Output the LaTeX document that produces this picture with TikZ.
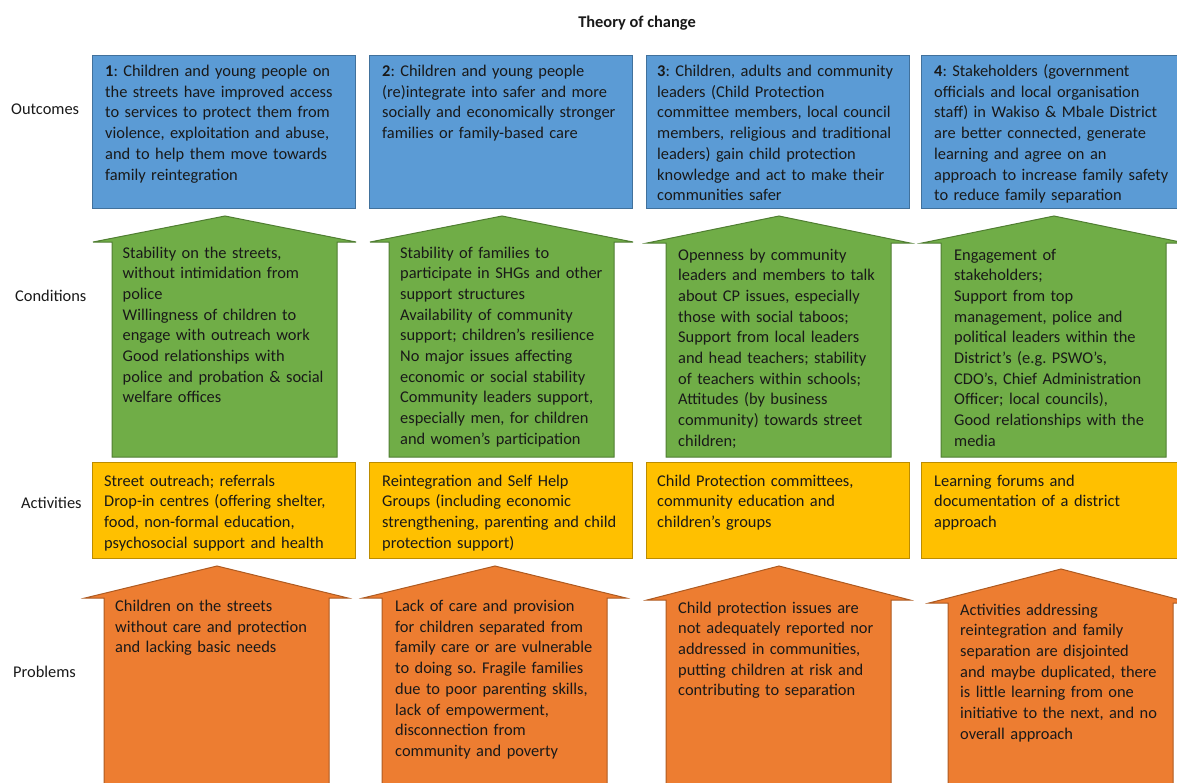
\documentclass[tikz,border=0pt]{standalone}
\usepackage{fontspec}
\setmainfont{Carlito}
\usepackage{tikz}
\frenchspacing

\definecolor{outblue}{HTML}{5B9BD5}
\definecolor{outblueline}{HTML}{41719C}
\definecolor{condgreen}{HTML}{70AD47}
\definecolor{condgreenline}{HTML}{507E32}
\definecolor{actgold}{HTML}{FFC000}
\definecolor{actgoldline}{HTML}{BC8C00}
\definecolor{probred}{HTML}{ED7D31}
\definecolor{probredline}{HTML}{AE5A21}

\begin{document}
\begin{tikzpicture}[x=1pt, y=-1pt,
    every node/.style={font=\fontsize{16.4}{20.7}\selectfont, inner sep=0pt, text=black!90},
    boxtext/.style={anchor=base west, text width=260pt, align=left},
    rowlabel/.style={anchor=west}]
    \clip (0,0) rectangle (1177,782);
    % Below are the coloured boxes and block arrows.
        \foreach \xl in {92,369,646,921}
            \filldraw[fill=outblue, draw=outblueline, line width=1pt] (\xl,55) rectangle (\xl+263,208);
        \foreach \xl/\ay/\wy in {93/216/242, 370/216/242, 647/216/243, 922/216/243}
            \filldraw[fill=condgreen, draw=condgreenline, line width=1pt]
                (\xl,\wy) -- (\xl+132,\ay) -- (\xl+263,\wy) -- (\xl+244,\wy) -- (\xl+244,457)
                -- (\xl+19,457) -- (\xl+19,\wy) -- cycle;
        \foreach \xl in {92,369,646,921}
            \filldraw[fill=actgold, draw=actgoldline, line width=1pt] (\xl,462) rectangle (\xl+263,558);
        \foreach \xl/\ay/\wy in {85/566/598, 363/566/598, 647/566/600, 929/569/603}
            \filldraw[fill=probred, draw=probredline, line width=1pt]
                (\xl,\wy) -- (\xl+132,\ay) -- (\xl+263,\wy) -- (\xl+244,\wy) -- (\xl+244,790)
                -- (\xl+19,790) -- (\xl+19,\wy) -- cycle;
    % Below nodes are the title and row labels.
        \node[font=\fontsize{16.4}{20.7}\selectfont\bfseries] (title) at (637,23) {Theory of change};
        \node[rowlabel] (outcomes) at (11,109) {Outcomes};
        \node[rowlabel] (conditions) at (15,296) {Conditions};
        \node[rowlabel] (activities) at (21,503) {Activities};
        \node[rowlabel] (problems) at (13,672) {Problems};
    % Outcomes.
        \node[boxtext] (out1) at (105,76.5) {\textbf{1}: Children and young people on\\the streets have improved access\\to services to protect them from\\violence, exploitation and abuse,\\and to help them move towards\\family reintegration};
        \node[boxtext] (out2) at (382,76.5) {\textbf{2}: Children and young people\\(re)integrate into safer and more\\socially and economically stronger\\families or family-based care};
        \node[boxtext] (out3) at (657,76.5) {\textbf{3}: Children, adults and community\\leaders (Child Protection\\committee members, local council\\members, religious and traditional\\leaders) gain child protection\\knowledge and act to make their\\communities safer};
        \node[boxtext] (out4) at (934,76.5) {\textbf{4}: Stakeholders (government\\officials and local organisation\\staff) in Wakiso \& Mbale District\\are better connected, generate\\learning and agree on an\\approach to increase family safety\\to reduce family separation};
    % Conditions.
        \node[boxtext] (cond1) at (122.5,258) {Stability on the streets,\\without intimidation from\\police\\Willingness of children to\\engage with outreach work\\Good relationships with\\police and probation \& social\\welfare offices};
        \node[boxtext] (cond2) at (400,258) {Stability of families to\\participate in SHGs and other\\support structures\\Availability of community\\support; children’s resilience\\No major issues affecting\\economic or social stability\\Community leaders support,\\especially men, for children\\and women’s participation};
        \node[boxtext] (cond3) at (678,260) {Openness by community\\leaders and members to talk\\about CP issues, especially\\those with social taboos;\\Support from local leaders\\and head teachers; stability\\of teachers within schools;\\Attitudes (by business\\community) towards street\\children;};
        \node[boxtext] (cond4) at (954,260) {Engagement of\\stakeholders;\\Support from top\\management, police and\\political leaders within the\\District’s (e.g. PSWO’s,\\CDO’s, Chief Administration\\Officer; local councils),\\Good relationships with the\\media};
    % Activities.
        \node[boxtext] (act1) at (104,486) {Street outreach; referrals\\Drop-in centres (offering shelter,\\food, non-formal education,\\psychosocial support and health};
        \node[boxtext] (act2) at (382,486) {Reintegration and Self Help\\Groups (including economic\\strengthening, parenting and child\\protection support)};
        \node[boxtext] (act3) at (657,486) {Child Protection committees,\\community education and\\children’s groups};
        \node[boxtext] (act4) at (934,486) {Learning forums and\\documentation of a district\\approach};
    % Problems.
        \node[boxtext] (prob1) at (115,611.5) {Children on the streets\\without care and protection\\and lacking basic needs};
        \node[boxtext] (prob2) at (395,611.5) {Lack of care and provision\\for children separated from\\family care or are vulnerable\\to doing so. Fragile families\\due to poor parenting skills,\\lack of empowerment,\\disconnection from\\community and poverty};
        \node[boxtext] (prob3) at (678,613) {Child protection issues are\\not adequately reported nor\\addressed in communities,\\putting children at risk and\\contributing to separation};
        \node[boxtext] (prob4) at (960,615) {Activities addressing\\reintegration and family\\separation are disjointed\\and maybe duplicated, there\\is little learning from one\\initiative to the next, and no\\overall approach};
\end{tikzpicture}
\end{document}
